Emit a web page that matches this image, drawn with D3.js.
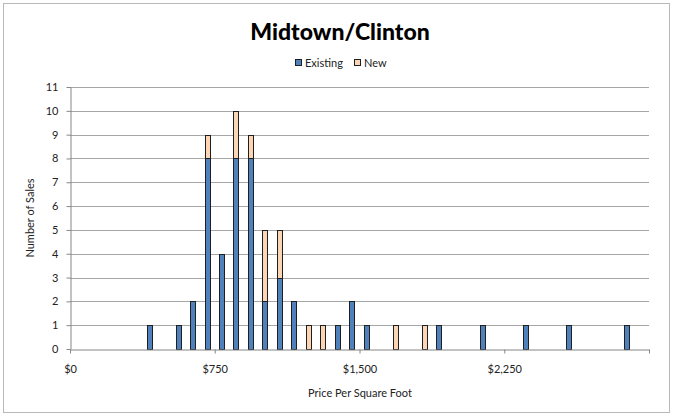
<!DOCTYPE html>
<html>
<head>
<meta charset="utf-8">
<script src="https://cdn.jsdelivr.net/npm/d3@7"></script>
<style>
  body { margin: 0; background: #fff; }
  text { font-family: "Lato", "DejaVu Sans", sans-serif; fill: #222; }
</style>
</head>
<body>
<div id="chart"></div>
<script>
// bin centres ($75 bins) and counts per series
var binCenters = [412.5, 562.5, 637.5, 712.5, 787.5, 862.5, 937.5, 1012.5, 1087.5, 1162.5,
                  1237.5, 1312.5, 1387.5, 1462.5, 1537.5, 1687.5, 1837.5, 1912.5, 2137.5,
                  2362.5, 2587.5, 2887.5];
var existing = [1, 1, 2, 8, 4, 8, 8, 2, 3, 2, 0, 0, 1, 2, 1, 0, 0, 1, 1, 1, 1, 1];
var newSales = [0, 0, 0, 1, 0, 2, 1, 3, 2, 0, 1, 1, 0, 0, 0, 1, 1, 0, 0, 0, 0, 0];
var seriesNames = ["Existing", "New"];
var xTicks = [0, 750, 1500, 2250, 3000];
var xTickLabels = ["$0", "$750", "$1,500", "$2,250", ""];
var yTicks = [0, 1, 2, 3, 4, 5, 6, 7, 8, 9, 10, 11];

var width = 674, height = 416;
var colors = {"Existing": "#4f81bd", "New": "#fcd5b4"};

var svg = d3.select("#chart").append("svg")
    .attr("width", width)
    .attr("height", height);

// outer frame
svg.append("rect")
    .attr("x", 3.5).attr("y", 3.5)
    .attr("width", 666).attr("height", 409)
    .attr("fill", "#fff")
    .attr("stroke", "#b8b8b8");

var x = d3.scaleLinear().domain([0, 3000]).range([70, 649]);
var y = d3.scaleLinear().domain([0, 11]).range([349, 87]);

// gridlines
svg.append("g")
    .selectAll("line")
    .data(yTicks.slice(1))
    .enter().append("line")
    .attr("x1", x(0)).attr("x2", x(3000))
    .attr("y1", function (d) { return Math.round(y(d)) + 0.5; })
    .attr("y2", function (d) { return Math.round(y(d)) + 0.5; })
    .attr("stroke", "#a6a6a6");

// stacked bars
var rows = binCenters.map(function (c, i) {
    return {center: c, Existing: existing[i], New: newSales[i]};
});
var stack = d3.stack().keys(seriesNames)(rows);
var barW = 6;

svg.append("g")
    .selectAll("g")
    .data(stack)
    .enter().append("g")
    .attr("fill", function (d) { return colors[d.key]; })
    .selectAll("rect")
    .data(function (d) { return d.filter(function (p) { return p[1] > p[0]; }); })
    .enter().append("rect")
    .attr("x", function (d) { return Math.round(x(d.data.center) - barW / 2) + 0.5; })
    .attr("y", function (d) { return Math.round(y(d[1])) + 0.5; })
    .attr("width", barW - 1)
    .attr("height", function (d) { return Math.round(y(d[0])) - Math.round(y(d[1])); })
    .attr("stroke", "#1f1f1f")
    .attr("stroke-width", 1);

// y axis
var yAxis = svg.append("g")
    .attr("transform", "translate(" + (x(0) + 0.5) + ",0)")
    .call(d3.axisLeft(y).tickValues(yTicks).tickSize(4).tickSizeOuter(0).tickPadding(6));
yAxis.select(".domain").attr("stroke", "#868686");
yAxis.selectAll(".tick line").attr("stroke", "#868686");
yAxis.selectAll("text").style("font-size", "11px").attr("dx", "-2");

// x axis
var xAxis = svg.append("g")
    .attr("transform", "translate(0," + (y(0) + 0.5) + ")")
    .call(d3.axisBottom(x).tickValues(xTicks)
        .tickFormat(function (d, i) { return xTickLabels[i]; })
        .tickSize(4).tickSizeOuter(0).tickPadding(12));
xAxis.select(".domain").attr("stroke", "#868686");
xAxis.selectAll(".tick line").attr("stroke", "#868686");
xAxis.selectAll("text").style("font-size", "11px");

// title
svg.append("text")
    .attr("x", 340).attr("y", 40)
    .attr("text-anchor", "middle")
    .style("font-size", "23px")
    .style("font-weight", "900")
    .style("fill", "#000")
    .text("Midtown/Clinton");

// legend
var legend = svg.append("g")
    .selectAll("g")
    .data(seriesNames)
    .enter().append("g")
    .attr("transform", function (d, i) { return "translate(" + (295 + i * 59) + ",59)"; });
legend.append("rect")
    .attr("x", 0.5).attr("y", 0.5)
    .attr("width", 6).attr("height", 6)
    .attr("fill", function (d) { return colors[d]; })
    .attr("stroke", "#1f1f1f");
legend.append("text")
    .attr("x", 10).attr("y", 7.5)
    .style("font-size", "11px")
    .text(function (d) { return d; });

// axis titles
svg.append("text")
    .attr("transform", "translate(34,218) rotate(-90)")
    .attr("text-anchor", "middle")
    .style("font-size", "11px")
    .text("Number of Sales");

svg.append("text")
    .attr("x", 360).attr("y", 397)
    .attr("text-anchor", "middle")
    .style("font-size", "11px")
    .text("Price Per Square Foot");
</script>
</body>
</html>
